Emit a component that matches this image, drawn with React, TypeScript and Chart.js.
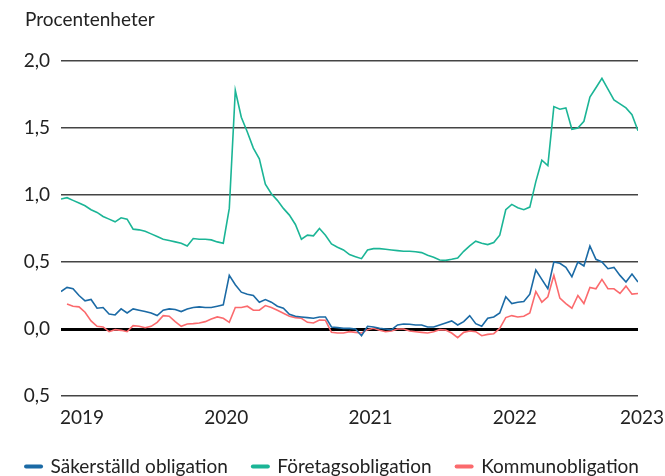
import React, { useEffect, useRef } from "react";
import { Chart, registerables } from "chart.js";

Chart.register(...registerables);

// half-monthly observations, 2019-01 .. 2023-01 (decimal years)
const periods: number[] = Array.from({ length: 97 }, (_, i) => 2019 + i / 24);

const yearTicks = [2019, 2020, 2021, 2022, 2023];
const yearLabels = ["2019", "2020", "2021", "2022", "2023"];
const titleText = "Procentenheter";

const seriesNames = ["Säkerställd obligation", "Företagsobligation", "Kommunobligation"];
const seriesColors = ["#1b6aa5", "#1bb596", "#fb6a6d"];

const sakerstalld: (number | null)[] = [
  0.28, 0.31, 0.30, 0.25, 0.21, 0.22, 0.155, 0.16, 0.112, 0.105,
  0.15, 0.12, 0.15, 0.14, 0.13, 0.12, 0.10, 0.14, 0.15, 0.145,
  0.13, 0.15, 0.16, 0.165, 0.16, 0.16, 0.17, 0.18, 0.40, 0.33,
  0.275, 0.26, 0.25, 0.20, 0.22, 0.20, 0.17, 0.155, 0.11, 0.095,
  0.09, 0.085, 0.08, 0.09, 0.09, 0.015, 0.01, 0.005, 0.005, 0.0,
  -0.05, 0.02, 0.015, 0.005, 0.0, -0.005, 0.03, 0.037, 0.035, 0.03,
  0.03, 0.015, 0.015, 0.03, 0.045, 0.06, 0.03, 0.055, 0.10, 0.04,
  0.02, 0.08, 0.09, 0.12, 0.24, 0.19, 0.20, 0.205, 0.26, 0.44,
  0.37, 0.30, 0.50, 0.49, 0.46, 0.39, 0.50, 0.47, 0.62, 0.52,
  0.50, 0.45, 0.46, 0.40, 0.35, 0.41, 0.35,
];

const foretag: (number | null)[] = [
  0.97, 0.98, 0.96, 0.94, 0.92, 0.89, 0.87, 0.84, 0.82, 0.80,
  0.83, 0.82, 0.745, 0.74, 0.73, 0.71, 0.69, 0.67, 0.66, 0.65,
  0.64, 0.62, 0.675, 0.67, 0.67, 0.665, 0.65, 0.64, 0.90, 1.78,
  1.58, 1.47, 1.35, 1.27, 1.08, 1.01, 0.96, 0.90, 0.85, 0.78,
  0.67, 0.70, 0.695, 0.75, 0.70, 0.635, 0.61, 0.59, 0.555, 0.54,
  0.525, 0.59, 0.60, 0.60, 0.595, 0.59, 0.585, 0.58, 0.58, 0.577,
  0.57, 0.55, 0.535, 0.515, 0.512, 0.52, 0.53, 0.58, 0.62, 0.655,
  0.64, 0.63, 0.645, 0.70, 0.89, 0.93, 0.905, 0.89, 0.91, 1.10,
  1.26, 1.22, 1.66, 1.64, 1.65, 1.49, 1.50, 1.55, 1.73, 1.80,
  1.87, 1.79, 1.71, 1.68, 1.65, 1.60, 1.48,
];

const kommun: (number | null)[] = [
  null, 0.187, 0.17, 0.165, 0.125, 0.06, 0.02, 0.015, -0.02, -0.005,
  -0.01, -0.02, 0.025, 0.02, 0.01, 0.02, 0.05, 0.10, 0.095, 0.055,
  0.02, 0.037, 0.04, 0.045, 0.055, 0.075, 0.09, 0.08, 0.05, 0.16,
  0.16, 0.17, 0.14, 0.14, 0.175, 0.16, 0.14, 0.117, 0.095, 0.085,
  0.08, 0.05, 0.045, 0.067, 0.065, -0.025, -0.03, -0.03, -0.02, -0.025,
  -0.03, -0.005, 0.005, -0.01, -0.02, -0.015, 0.0, 0.0, -0.015, -0.02,
  -0.025, -0.03, -0.02, -0.005, -0.007, -0.03, -0.065, -0.025, -0.015, -0.02,
  -0.05, -0.04, -0.035, 0.005, 0.085, 0.10, 0.09, 0.095, 0.12, 0.28,
  0.20, 0.24, 0.40, 0.23, 0.19, 0.155, 0.25, 0.19, 0.31, 0.30,
  0.37, 0.30, 0.30, 0.265, 0.32, 0.26, 0.265,
];

const FONT = "Lato, 'Open Sans', sans-serif";
const TEXT_COLOR = "#222";
const FS = 19;

const textPlugin = {
  id: "extraText",
  afterDraw(chart: any) {
    const xs = chart.scales.x;
    const ctx = chart.ctx;
    ctx.save();
    ctx.font = `${FS}px ${FONT}`;
    ctx.fillStyle = TEXT_COLOR;
    ctx.textBaseline = "middle";
    // title
    ctx.textAlign = "left";
    ctx.fillText(titleText, 25, 20);
    // x labels
    const y = chart.chartArea.bottom + 22;
    yearTicks.forEach((yr, i) => {
      const px = xs.getPixelForValue(yr);
      if (i === yearTicks.length - 1) {
        ctx.textAlign = "right";
        ctx.fillText(yearLabels[i], chart.width - 1, y);
      } else {
        ctx.textAlign = "left";
        ctx.fillText(yearLabels[i], px - 1, y);
      }
    });
    ctx.restore();
  },
};

export default function App() {
  const ref = useRef<HTMLCanvasElement>(null);
  useEffect(() => {
    if (!ref.current) return;
    const all = [sakerstalld, foretag, kommun];
    const chart = new Chart(ref.current, {
      type: "line",
      data: {
        datasets: all.map((arr, s) => ({
          label: seriesNames[s],
          data: arr.map((v, i) => ({ x: periods[i], y: v })),
          borderColor: seriesColors[s],
          backgroundColor: seriesColors[s],
          borderWidth: 1.6,
          pointRadius: 0,
          tension: 0,
          spanGaps: false,
        })),
      },
      options: {
        responsive: false,
        animation: false,
        layout: { padding: { left: 0, right: 0, top: 61, bottom: -10 } },
        plugins: {
          tooltip: { enabled: false },
          title: { display: false },
          legend: {
            position: "bottom",
            labels: {
              color: TEXT_COLOR,
              font: { family: FONT, size: FS },
              usePointStyle: true,
              pointStyleWidth: 15,
              boxHeight: 8,
              padding: 25,
              generateLabels: (c: any) =>
                c.data.datasets.map((d: any, i: number) => ({
                  text: d.label,
                  fillStyle: d.borderColor,
                  strokeStyle: d.borderColor,
                  lineWidth: 4,
                  lineCap: "round",
                  pointStyle: "line",
                  datasetIndex: i,
                  fontColor: TEXT_COLOR,
                })),
            },
          },
        },
        scales: {
          x: {
            type: "linear",
            min: 2019,
            max: 2023,
            grid: { display: false, drawTicks: false },
            border: { display: false },
            ticks: { display: false },
            afterFit: (scale: any) => {
              scale.height = 36;
            },
          },
          y: {
            min: -0.5,
            max: 2.0,
            grid: {
              drawTicks: false,
              color: (ctx: any) => (ctx.tick && ctx.tick.value === 0 ? "#000" : "#444"),
              lineWidth: (ctx: any) => (ctx.tick && ctx.tick.value === 0 ? 3 : 1.4),
            },
            border: { display: false },
            ticks: {
              stepSize: 0.5,
              padding: 11,
              color: TEXT_COLOR,
              font: { family: FONT, size: FS },
              callback: (v: any) => Math.abs(Number(v)).toFixed(1).replace(".", ","),
            },
            afterFit: (scale: any) => {
              scale.width = 61;
            },
          },
          yRight: {
            position: "right",
            display: true,
            grid: { display: false, drawTicks: false },
            border: { display: false },
            ticks: { display: false },
            afterFit: (scale: any) => {
              scale.width = 27;
            },
          },
        },
      },
      plugins: [textPlugin],
    });
    return () => chart.destroy();
  }, []);
  return (
    <div style={{ position: "fixed", left: 0, top: 0, width: 665, height: 476, background: "#fff" }}>
      <canvas ref={ref} width={665} height={476} style={{ display: "block" }} />
    </div>
  );
}
